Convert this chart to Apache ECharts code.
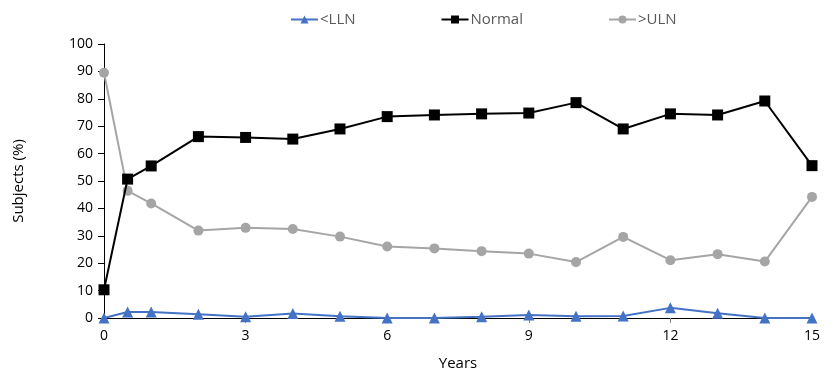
<!DOCTYPE html>
<html><head><meta charset="utf-8">
<script src="https://cdn.jsdelivr.net/npm/echarts@6/dist/echarts.min.js"></script>
<style>html,body{margin:0;padding:0;background:#fff}#c{width:839px;height:376px}</style>
</head><body><div id="c"></div>
<script>
const years = [0, 0.5, 1, 2, 3, 4, 5, 6, 7, 8, 9, 10, 11, 12, 13, 14, 15];
const lln = [0, 2.2, 2.2, 1.4, 0.5, 1.6, 0.6, 0, 0, 0.5, 1.1, 0.6, 0.7, 3.7, 1.7, 0, 0];
const normal = [10.3, 50.7, 55.5, 66.2, 65.9, 65.3, 69.0, 73.5, 74.1, 74.5, 74.8, 78.6, 69.0, 74.5, 74.1, 79.2, 55.6];
const uln = [89.5, 46.4, 41.8, 31.9, 32.9, 32.5, 29.7, 26.1, 25.4, 24.4, 23.5, 20.4, 29.6, 21.1, 23.3, 20.6, 44.2];
const seriesNames = ['<LLN', 'Normal', '>ULN'];

const font = 'Open Sans, Noto Sans, sans-serif';
const pairs = arr => years.map((y, i) => [y, arr[i]]);
const chart = echarts.init(document.getElementById('c'), null, {renderer: 'canvas'});
chart.setOption({
  animation: false,
  textStyle: {fontFamily: font},
  legend: {
    top: 7, left: 285, itemGap: 85, itemWidth: 27, itemHeight: 10,
    textStyle: {fontSize: 15, color: '#595959', fontFamily: font, padding: [0, 0, 0, -3]},
    data: seriesNames
  },
  grid: {left: 104, right: 27, top: 44, bottom: 58},
  xAxis: {
    type: 'value', min: 0, max: 15, interval: 3,
    name: 'Years', nameLocation: 'middle', nameGap: 38,
    nameTextStyle: {fontSize: 15, color: '#000', fontFamily: font},
    axisLine: {onZero: false, lineStyle: {color: '#000', width: 1}},
    axisTick: {show: true, length: 5, inside: false, lineStyle: {color: '#888'}},
    axisLabel: {fontSize: 14, color: '#000', margin: 11, fontFamily: font},
    splitLine: {show: false}
  },
  yAxis: {
    type: 'value', min: 0, max: 100, interval: 10,
    name: 'Subjects (%)', nameLocation: 'middle', nameGap: 78, nameRotate: 90,
    nameTextStyle: {fontSize: 15, color: '#000', fontFamily: font},
    axisLine: {show: true, lineStyle: {color: '#000', width: 1}},
    axisTick: {show: true, length: 6, lineStyle: {color: '#000'}},
    axisLabel: {fontSize: 14, color: '#000', margin: 11, fontFamily: font},
    splitLine: {show: false}
  },
  series: [
    {name: seriesNames[0], type: 'line', data: pairs(lln), symbol: 'triangle', symbolSize: 11,
     itemStyle: {color: '#4472C4'}, lineStyle: {color: '#4472C4', width: 2}, z: 4},
    {name: seriesNames[1], type: 'line', data: pairs(normal), symbol: 'rect', symbolSize: 11,
     itemStyle: {color: '#000'}, lineStyle: {color: '#000', width: 2}, z: 3},
    {name: seriesNames[2], type: 'line', data: pairs(uln), symbol: 'circle', symbolSize: 10,
     itemStyle: {color: '#A5A5A5'}, lineStyle: {color: '#A5A5A5', width: 2}, z: 2}
  ]
});
</script></body></html>
